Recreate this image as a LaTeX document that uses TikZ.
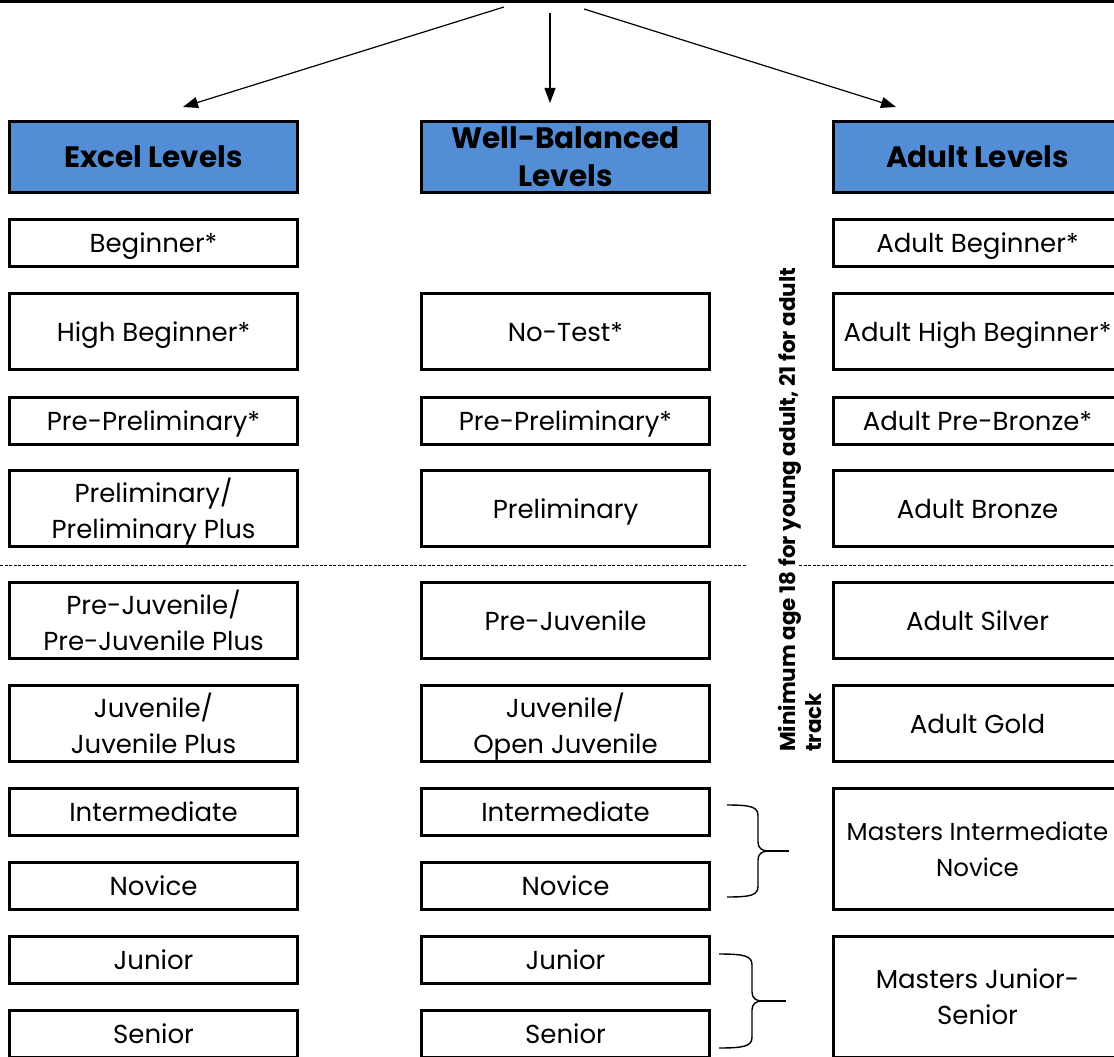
\documentclass[tikz,border=0pt]{standalone}
\usepackage{fontspec}
\setmainfont{Poppins}
\usetikzlibrary{arrows.meta,positioning,calc}

\definecolor{headblue}{RGB}{83,141,213}

\tikzset{
	levelbox/.style={draw, line width=3pt, fill=white, minimum width=288pt, minimum height=47pt, inner sep=0pt, outer sep=0pt, text depth=0pt, align=center, font=\fontsize{26}{36}\selectfont},
	tallbox/.style={levelbox, minimum height=76pt},
	headbox/.style={levelbox, minimum height=71pt, fill=headblue, font=\fontsize{29.5}{38}\selectfont\bfseries},
	splitarrow/.style={line width=1.2pt, -{Triangle[length=15pt,width=11pt]}}
}

\begin{document}
\begin{tikzpicture}[x=1pt, y=-1pt]
				\useasboundingbox (0,0) rectangle (1114,1057);
				\clip (0,0) rectangle (1114,1057);
				\draw[line width=4pt] (0,1) -- (1114,1);

				% the three tracks
				\node[headbox] (exHead) at (153.5,157) {Excel Levels};
				\node[headbox] (wbHead) at (565.5,157) {Well-Balanced\\Levels};
				\node[headbox] (adHead) at (977.5,157) {Adult Levels};

				\coordinate (srcL) at (504,7);
				\coordinate (srcM) at (550,13);
				\coordinate (srcR) at (584,9);
				\coordinate (tipL) at (183,107);
				\coordinate (tipM) at (550,103);
				\coordinate (tipR) at (896,107);
				\draw[splitarrow] (srcL) -- (tipL);
				\draw[splitarrow] (srcM) -- (tipM);
				\draw[splitarrow] (srcR) -- (tipR);

				% excel column
				\node[levelbox] (exBeg) at (153.5,243) {Beginner*};
				\node[tallbox] (exHighBeg) at (153.5,331.5) {High Beginner*};
				\node[levelbox] (exPrePre) at (153.5,420.5) {Pre-Preliminary*};
				\node[tallbox] (exPrelim) at (153.5,508.5) {Preliminary/\\Preliminary Plus};
				\node[tallbox] (exPreJuv) at (153.5,620.5) {Pre-Juvenile/\\Pre-Juvenile Plus};
				\node[tallbox] (exJuv) at (153.5,723.5) {Juvenile/\\Juvenile Plus};
				\node[levelbox] (exInt) at (153.5,811.5) {Intermediate};
				\node[levelbox] (exNov) at (153.5,886) {Novice};
				\node[levelbox] (exJun) at (153.5,959.5) {Junior};
				\node[levelbox] (exSen) at (153.5,1034) {Senior};

				% well-balanced column
				\node[tallbox] (wbNoTest) at (565.5,331.5) {No-Test*};
				\node[levelbox] (wbPrePre) at (565.5,420.5) {Pre-Preliminary*};
				\node[tallbox] (wbPrelim) at (565.5,508.5) {Preliminary};
				\node[tallbox] (wbPreJuv) at (565.5,620.5) {Pre-Juvenile};
				\node[tallbox] (wbJuv) at (565.5,723.5) {Juvenile/\\Open Juvenile};
				\node[levelbox] (wbInt) at (565.5,811.5) {Intermediate};
				\node[levelbox] (wbNov) at (565.5,886) {Novice};
				\node[levelbox] (wbJun) at (565.5,959.5) {Junior};
				\node[levelbox] (wbSen) at (565.5,1034) {Senior};

				% adult column
				\node[levelbox] (adBeg) at (977.5,243) {Adult Beginner*};
				\node[tallbox] (adHighBeg) at (977.5,331.5) {Adult High Beginner*};
				\node[levelbox] (adPreBronze) at (977.5,420.5) {Adult Pre-Bronze*};
				\node[tallbox] (adBronze) at (977.5,508.5) {Adult Bronze};
				\node[tallbox] (adSilver) at (977.5,620.5) {Adult Silver};
				\node[tallbox] (adGold) at (977.5,723.5) {Adult Gold};
				\node[levelbox, minimum height=121pt, font=\fontsize{24.5}{36}\selectfont] (adMastIN) at (977.5,849) {Masters Intermediate\\Novice};
				\node[levelbox, minimum height=121pt] (adMastJS) at (977.5,997) {Masters Junior-\\Senior};

				% age note and divider
				\node[rotate=90, anchor=north west, align=left, inner sep=0pt, font=\fontsize{21.5}{26}\selectfont\bfseries] (ageNote) at (778,752) {Minimum age 18 for young adult, 21 for adult\\track};
				\draw[line width=0.8pt, dash pattern=on 3pt off 1.5pt] (0,565) -- (747,565);
				\draw[line width=0.8pt, dash pattern=on 3pt off 1.5pt] (799,565) -- (1114,565);

				% braces
				\draw[line width=1.4pt] (727,805) .. controls (752,805) and (758,807) .. (758,816) -- (758,842) .. controls (758,848) and (762,851) .. (768,851) .. controls (762,851) and (758,854) .. (758,860) -- (758,886) .. controls (758,895) and (752,897) .. (727,897);
				\draw[line width=1.4pt] (768,851) -- (789,851);
				\draw[line width=1.4pt] (719,954) .. controls (745,954) and (752,956) .. (752,965) -- (752,992) .. controls (752,998) and (756,1001) .. (762,1001) .. controls (756,1001) and (752,1004) .. (752,1010) -- (752,1037) .. controls (752,1046) and (745,1048) .. (719,1048);
				\draw[line width=1.4pt] (762,1001) -- (786,1001);
			\end{tikzpicture}
\end{document}
